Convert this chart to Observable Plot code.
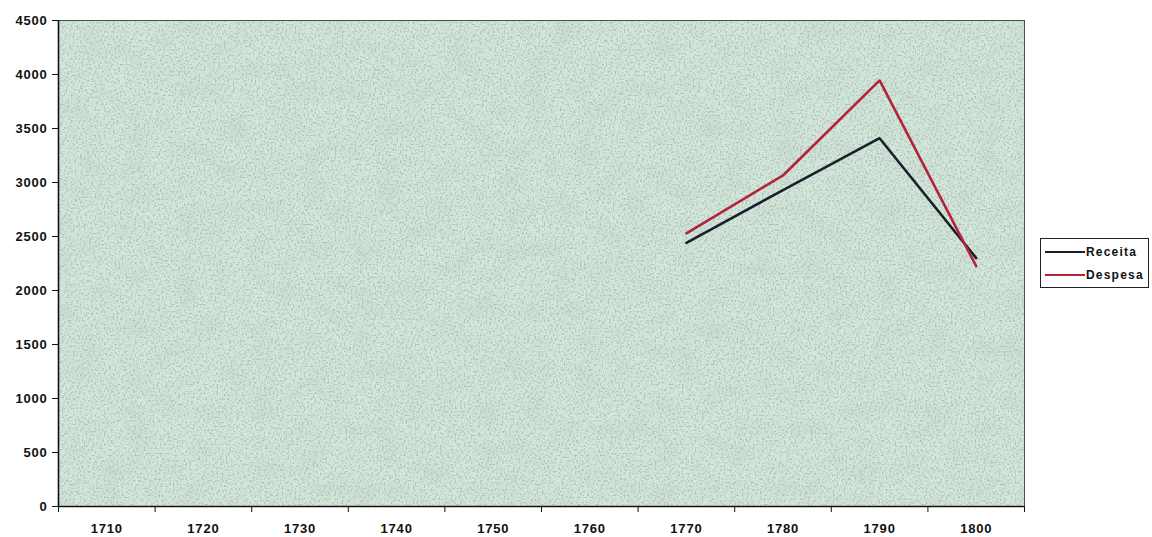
<!DOCTYPE html>
<html>
<head>
<meta charset="utf-8">
<script src="https://cdn.jsdelivr.net/npm/d3@7"></script>
<script src="https://cdn.jsdelivr.net/npm/@observablehq/plot@0.6"></script>
<style>
  html, body { margin: 0; padding: 0; background: #fff; }
  #wrap { position: relative; width: 1152px; height: 537px; }
  #legend {
    position: absolute; left: 1040px; top: 238px; width: 109px; height: 50px;
    border: 1px solid #222; background: #fff; box-sizing: border-box;
    font: bold 12px "Liberation Sans", Arial, sans-serif; color: #111; letter-spacing: 1.2px;
  }
  #legend .row { position: absolute; left: 4px; display: flex; align-items: center; }
  #legend .sw { width: 40px; height: 0; border-top: 2px solid; margin-right: 1px; }
</style>
</head>
<body>
<div id="wrap"></div>
<script>
// Category axis: decades
const years = [1710, 1720, 1730, 1740, 1750, 1760, 1770, 1780, 1790, 1800];
// Decades with recorded values
const dataYears = [1770, 1780, 1790, 1800];
const receita = [2440, 2930, 3410, 2300];
const despesa = [2530, 3065, 3945, 2225];
const yTicks = [0, 500, 1000, 1500, 2000, 2500, 3000, 3500, 4000, 4500];
const seriesNames = ["Receita", "Despesa"];
const seriesColors = ["#1b1f2b", "#b3243c"];

const rows = [
  ...dataYears.map((y, i) => ({year: y, value: receita[i], serie: seriesNames[0]})),
  ...dataYears.map((y, i) => ({year: y, value: despesa[i], serie: seriesNames[1]}))
];

// Band edges between decades (category-style ticks)
const half = (years[1] - years[0]) / 2;
const edges = [...years.map(y => y - half), years[years.length - 1] + half];

const chart = Plot.plot({
  width: 1152,
  height: 537,
  marginLeft: 58,
  marginTop: 20,
  marginBottom: 31,
  marginRight: 128,
  style: {fontFamily: "'Liberation Sans', Arial, sans-serif", fontSize: "13px", fontWeight: "bold", color: "#111", background: "transparent", letterSpacing: "0.8px"},
  x: {domain: [edges[0], edges[edges.length - 1]]},
  y: {domain: [0, 4500]},
  color: {domain: seriesNames, range: seriesColors},
  marks: [
    Plot.frame({fill: "#d3e8da"}),
    Plot.line(rows, {x: "year", y: "value", z: "serie", stroke: "serie", strokeWidth: 2.6, strokeLinejoin: "miter"}),
    Plot.frame({stroke: "#4a504a", strokeWidth: 1}),
    Plot.ruleY([0], {stroke: "#111", strokeWidth: 1.6}),
    Plot.ruleX([edges[0]], {stroke: "#111", strokeWidth: 1.6}),
    Plot.axisY({ticks: yTicks, tickSize: 6, tickPadding: 5, label: null, tickFormat: d => String(d), stroke: "#111"}),
    Plot.axisX({ticks: years, tickSize: 0, tickPadding: 17, label: null, tickFormat: d => String(d)}),
    Plot.axisX({ticks: edges, tickSize: 6, label: null, tickFormat: () => "", stroke: "#111"})
  ]
});

document.getElementById("wrap").appendChild(chart);

// Grainy fill texture over the plotting area
const svg = d3.select(chart);
const defs = svg.insert("defs", ":first-child");
const f1 = defs.append("filter").attr("id", "grain")
  .attr("x", 0).attr("y", 0).attr("width", 1).attr("height", 1);
f1.append("feTurbulence").attr("type", "fractalNoise").attr("baseFrequency", 0.55)
  .attr("numOctaves", 1).attr("seed", 3).attr("result", "n");
f1.append("feColorMatrix").attr("in", "n").attr("type", "matrix")
  .attr("values", "0 0 0 0 0.45  0 0 0 0 0.54  0 0 0 0 0.50  4.2 0 0 0 -2.0");
const f2 = defs.append("filter").attr("id", "mottle")
  .attr("x", 0).attr("y", 0).attr("width", 1).attr("height", 1);
f2.append("feTurbulence").attr("type", "fractalNoise").attr("baseFrequency", "0.04 0.05")
  .attr("numOctaves", 1).attr("seed", 8).attr("result", "m");
f2.append("feColorMatrix").attr("in", "m").attr("type", "matrix")
  .attr("values", "0 0 0 0 0.55  0 0 0 0 0.63  0 0 0 0 0.58  0.9 0 0 0 -0.38");

const frameFill = chart.querySelector('[aria-label="frame"] rect, rect[aria-label="frame"]') ||
  chart.querySelector('[aria-label="frame"]');
if (frameFill) {
  const parent = frameFill.parentNode;
  const after = frameFill.nextSibling;
  const m = frameFill.cloneNode(true);
  m.setAttribute("filter", "url(#mottle)");
  m.setAttribute("fill", "#fff");
  m.removeAttribute("aria-label");
  const g = frameFill.cloneNode(true);
  g.setAttribute("filter", "url(#grain)");
  g.setAttribute("fill", "#fff");
  g.removeAttribute("aria-label");
  parent.insertBefore(m, after);
  parent.insertBefore(g, after);
}

// Legend
const legend = document.createElement("div");
legend.id = "legend";
seriesNames.forEach((name, i) => {
  const row = document.createElement("div");
  row.className = "row";
  row.style.top = (i === 0 ? 6 : 29) + "px";
  const sw = document.createElement("span");
  sw.className = "sw";
  sw.style.borderTopColor = seriesColors[i];
  const t = document.createElement("span");
  t.textContent = name;
  row.appendChild(sw);
  row.appendChild(t);
  legend.appendChild(row);
});
document.getElementById("wrap").appendChild(legend);
</script>
</body>
</html>
